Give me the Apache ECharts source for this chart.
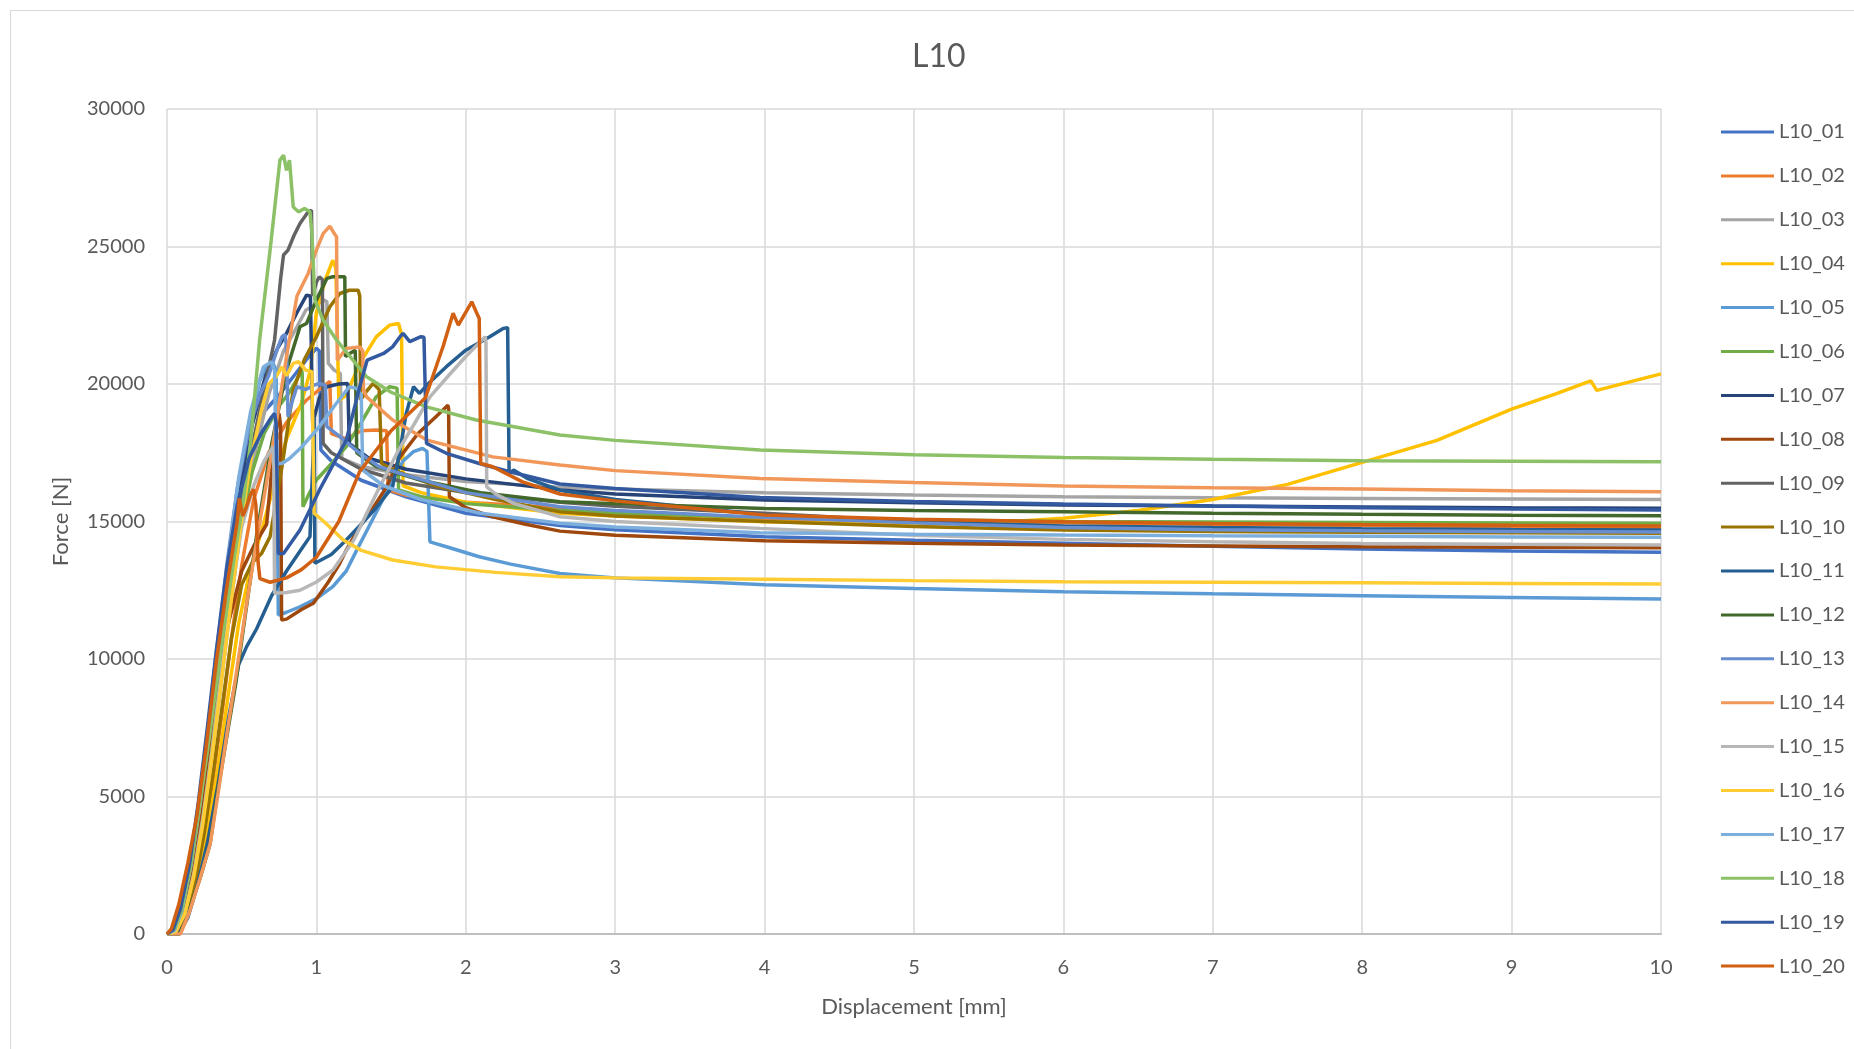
<!DOCTYPE html>
<html>
<head>
<meta charset="utf-8">
<script src="https://cdn.jsdelivr.net/npm/echarts@6/dist/echarts.min.js"></script>
<style>
html,body{margin:0;padding:0;background:#fff;}
#frame{position:absolute;left:10px;top:10px;width:1860px;height:1050px;border-left:1px solid #d9d9d9;border-top:1px solid #d9d9d9;}
#chart{position:absolute;left:0;top:0;width:1854px;height:1049px;}
</style>
</head>
<body>
<div id="frame"></div>
<div id="chart"></div>
<script>
// ---- data (x: displacement [mm], y: force [N]) ----
const seriesNames = ["L10_01","L10_02","L10_03","L10_04","L10_05","L10_06","L10_07","L10_08","L10_09","L10_10",
                     "L10_11","L10_12","L10_13","L10_14","L10_15","L10_16","L10_17","L10_18","L10_19","L10_20"];
const seriesColors = ["#4472C4","#ED7D31","#A5A5A5","#FFC000","#5B9BD5","#70AD47","#264478","#9E480E","#636363","#997300",
                      "#255E91","#43682B","#698ED0","#F1975A","#B7B7B7","#FFCD33","#7CAFDD","#8CC168","#335AA1","#D26012"];
const xTicks = [0,1,2,3,4,5,6,7,8,9,10];
const yTicks = [0,5000,10000,15000,20000,25000,30000];

const L10_01 = [[0,0],[0.05,120],[0.1,800],[0.16,2300],[0.22,4400],[0.28,6900],[0.34,9700],[0.4,12400],[0.47,15200],[0.55,17500],[0.65,19000],[0.75,19600],[0.85,20300],[0.95,21000],[1.0,21300],[1.02,21200],[1.03,17600],[1.1,17200],[1.3,16500],[1.6,15900],[2.0,15300],[2.63,14850],[3,14700],[4,14446],[5,14320],[6,14205],[7,14100],[8,14000],[9,13930],[10,13878]];
const L10_02 = [[0,0],[0.07,50],[0.13,700],[0.19,1900],[0.25,3600],[0.31,5700],[0.37,8100],[0.43,10700],[0.5,13400],[0.58,15800],[0.68,17500],[0.8,18600],[0.93,19400],[1.02,19800],[1.09,20100],[1.1,18200],[1.2,18000],[1.3,18300],[1.4,18330],[1.47,18300],[1.48,16150],[1.6,15950],[2.0,15700],[2.63,15500],[3,15380],[4,15100],[5,14990],[6,14950],[7,14900],[8,14850],[9,14810],[10,14780]];
const L10_03 = [[0,0],[0.06,80],[0.12,750],[0.18,2100],[0.24,4000],[0.3,6400],[0.36,9000],[0.42,11700],[0.49,14600],[0.58,17300],[0.68,19600],[0.78,21200],[0.87,22080],[0.93,22690],[1.0,22900],[1.05,23050],[1.07,23000],[1.08,20750],[1.12,20500],[1.16,20380],[1.17,17300],[1.3,17000],[1.6,16700],[2.0,16450],[2.63,16250],[3,16180],[4,16045],[5,15960],[6,15900],[7,15860],[8,15840],[9,15820],[10,15800]];
const L10_04 = [[0,0],[0.07,50],[0.13,650],[0.2,1900],[0.27,3700],[0.34,6000],[0.41,8700],[0.48,11300],[0.555,13200],[0.645,14900],[0.71,16200],[0.8,18000],[0.9,19300],[0.96,20500],[1.0,22600],[1.06,23800],[1.11,24500],[1.13,24200],[1.15,19400],[1.2,19600],[1.29,20750],[1.4,21715],[1.49,22140],[1.55,22200],[1.57,21800],[1.58,16300],[1.7,16050],[2.0,15700],[2.63,15300],[3,15200],[4,14990],[5,14880],[5.5,14950],[6,15114],[6.5,15400],[7,15800],[7.5,16350],[8,17150],[8.5,17950],[9,19083],[9.3,19650],[9.53,20115],[9.57,19770],[9.7,19950],[10,20370]];
const L10_05 = [[0,0],[0.05,100],[0.1,800],[0.16,2400],[0.22,4600],[0.28,7200],[0.34,10000],[0.4,12900],[0.47,15800],[0.55,18300],[0.62,20100],[0.66,20620],[0.71,20750],[0.73,20500],[0.745,11600],[0.8,11700],[0.89,11900],[1.0,12200],[1.11,12630],[1.2,13200],[1.27,13960],[1.35,14800],[1.42,15540],[1.5,16400],[1.58,17200],[1.65,17540],[1.71,17660],[1.74,17550],[1.76,14260],[1.87,14080],[2.09,13720],[2.3,13450],[2.63,13110],[3,12950],[4,12700],[5,12560],[6,12447],[7,12370],[8,12300],[9,12240],[10,12181]];
const L10_06 = [[0,0],[0.06,100],[0.12,800],[0.18,2200],[0.24,4200],[0.3,6700],[0.36,9400],[0.42,12100],[0.49,14700],[0.57,16800],[0.65,18200],[0.75,19200],[0.82,19700],[0.867,20140],[0.9,20500],[0.905,20400],[0.91,15540],[0.95,16000],[1.0,16510],[1.1,17100],[1.2,17720],[1.3,18600],[1.4,19530],[1.49,19900],[1.54,19850],[1.55,16150],[1.7,15900],[2.0,15650],[2.63,15400],[3,15300],[4,15150],[5,15060],[6,15000],[7,14980],[8,14960],[9,14950],[10,14933]];
const L10_07 = [[0,0],[0.05,120],[0.1,850],[0.16,2500],[0.22,4700],[0.28,7400],[0.34,10200],[0.41,13300],[0.48,16000],[0.57,18500],[0.66,20300],[0.74,21300],[0.8,21840],[0.87,22600],[0.934,23230],[0.96,23200],[0.975,18570],[1.02,19500],[1.07,19900],[1.15,20000],[1.21,20020],[1.22,17840],[1.35,17300],[1.6,16900],[2.0,16550],[2.63,16150],[3,16000],[4,15780],[5,15680],[6,15600],[7,15560],[8,15530],[9,15500],[10,15480]];
const L10_08 = [[0,0],[0.05,100],[0.11,900],[0.17,2500],[0.23,4600],[0.29,7200],[0.35,9900],[0.42,11500],[0.5,13200],[0.58,14100],[0.667,14900],[0.72,17960],[0.75,18930],[0.76,18500],[0.767,11420],[0.8,11450],[0.9,11800],[0.98,12025],[1.08,12800],[1.157,13480],[1.2,13960],[1.29,14810],[1.38,15500],[1.47,16260],[1.56,17350],[1.68,18200],[1.8,18810],[1.88,19230],[1.885,19100],[1.89,15900],[2.0,15500],[2.18,15170],[2.4,14900],[2.63,14650],[3,14500],[4,14300],[5,14210],[6,14144],[7,14110],[8,14080],[9,14060],[10,14046]];
const L10_09 = [[0,0],[0.05,150],[0.1,900],[0.16,2600],[0.22,4900],[0.28,7600],[0.35,10700],[0.42,13300],[0.5,15800],[0.58,18000],[0.65,19800],[0.72,21600],[0.76,23800],[0.78,24690],[0.81,24870],[0.85,25400],[0.89,25840],[0.945,26260],[0.967,26320],[0.975,23200],[1.0,23700],[1.02,23900],[1.04,23800],[1.045,17840],[1.1,17500],[1.3,16900],[1.6,16400],[2.0,16050],[2.63,15700],[3,15550],[4,15300],[5,15000],[6,14800],[7,14720],[8,14690],[9,14670],[10,14650]];
const L10_10 = [[0,0],[0.07,60],[0.13,700],[0.19,1900],[0.25,3700],[0.31,5900],[0.37,8300],[0.43,10700],[0.5,12700],[0.57,13500],[0.633,13840],[0.69,14450],[0.77,17000],[0.845,19780],[0.92,20900],[1.0,21720],[1.09,22810],[1.157,23290],[1.22,23410],[1.28,23410],[1.29,23200],[1.296,19415],[1.33,19700],[1.38,20020],[1.42,19800],[1.436,17110],[1.55,16800],[1.8,16300],[2.2,15800],[2.63,15350],[3,15200],[4,15000],[5,14820],[6,14690],[7,14640],[8,14610],[9,14590],[10,14570]];
const L10_11 = [[0,0],[0.08,0],[0.14,600],[0.2,1700],[0.27,3300],[0.34,5400],[0.41,7800],[0.48,9800],[0.533,10450],[0.6,11100],[0.7,12300],[0.8,13200],[0.9,14000],[0.957,14450],[0.975,17000],[0.985,18800],[0.99,13480],[1.0,13480],[1.1,13800],[1.2,14325],[1.3,14900],[1.4,15500],[1.51,16260],[1.56,17600],[1.6,18900],[1.65,19900],[1.69,19660],[1.75,20020],[1.87,20630],[2.0,21230],[2.16,21720],[2.25,22020],[2.28,22050],[2.29,16750],[2.32,16870],[2.41,16570],[2.63,16140],[3,15800],[4,15250],[5,15000],[6,14834],[7,14780],[8,14740],[9,14710],[10,14690]];
const L10_12 = [[0,0],[0.087,0],[0.15,900],[0.22,2000],[0.288,3265],[0.34,5200],[0.4,7165],[0.46,9100],[0.51,11055],[0.6,14500],[0.7,17800],[0.8,20500],[0.89,22080],[0.934,22200],[1.0,23050],[1.07,23840],[1.11,23900],[1.19,23900],[1.195,21000],[1.22,21100],[1.26,21230],[1.27,17500],[1.4,17000],[1.7,16500],[2.1,16050],[2.63,15718],[3,15650],[4,15477],[5,15400],[6,15355],[7,15300],[8,15260],[9,15230],[10,15210]];
const L10_13 = [[0,0],[0.04,150],[0.09,800],[0.15,2400],[0.21,4600],[0.27,7300],[0.33,10200],[0.4,13400],[0.47,16200],[0.55,18400],[0.62,19600],[0.68,20300],[0.74,21300],[0.77,21720],[0.79,21800],[0.8,21300],[0.81,18810],[0.84,19400],[0.87,19900],[0.93,19800],[0.98,19950],[1.02,20020],[1.06,19950],[1.07,18450],[1.16,18080],[1.29,17480],[1.42,16990],[1.56,16750],[2.0,16050],[2.63,15536],[3,15400],[4,15150],[5,14950],[6,14780],[7,14700],[8,14660],[9,14640],[10,14620]];
const L10_14 = [[0,0],[0.09,0],[0.15,800],[0.22,2000],[0.29,3300],[0.35,5400],[0.41,7600],[0.47,9700],[0.53,11900],[0.6,14300],[0.7,17500],[0.8,21000],[0.87,23200],[0.9,23530],[0.945,24020],[1.0,24870],[1.045,25470],[1.09,25740],[1.113,25530],[1.135,25350],[1.14,20870],[1.2,21290],[1.29,21350],[1.31,21200],[1.315,19800],[1.336,19530],[1.51,18690],[1.74,17960],[2.18,17350],[2.63,17053],[3,16850],[3.97,16568],[5,16420],[6,16288],[7,16230],[8,16180],[9,16120],[10,16082]];
const L10_15 = [[0,0],[0.06,100],[0.12,750],[0.18,2200],[0.24,4200],[0.3,6600],[0.36,9300],[0.43,12300],[0.5,14800],[0.58,16300],[0.65,17200],[0.71,17720],[0.715,17000],[0.72,12390],[0.8,12420],[0.89,12500],[1.0,12800],[1.11,13230],[1.25,14325],[1.4,16000],[1.55,17600],[1.65,18500],[1.76,19530],[1.9,20400],[2.0,21000],[2.13,21720],[2.135,21500],[2.14,16260],[2.2,16000],[2.32,15660],[2.63,15173],[3,15000],[3.97,14750],[5,14500],[6,14350],[7,14260],[8,14200],[9,14170],[10,14144]];
const L10_16 = [[0,0],[0.06,90],[0.12,750],[0.18,2100],[0.24,4000],[0.3,6400],[0.36,9000],[0.42,11700],[0.49,14700],[0.56,17200],[0.63,19000],[0.68,20000],[0.73,20260],[0.77,20620],[0.8,20300],[0.845,20750],[0.88,20810],[0.93,20500],[0.97,20450],[0.985,15300],[1.05,15000],[1.18,14325],[1.3,13950],[1.51,13600],[1.8,13350],[2.2,13150],[2.63,12990],[3,12950],[4,12900],[5,12850],[6,12810],[7,12790],[8,12770],[9,12750],[10,12727]];
const L10_17 = [[0,0],[0.05,130],[0.1,850],[0.16,2500],[0.22,4700],[0.28,7400],[0.34,10300],[0.41,13600],[0.48,16600],[0.56,19000],[0.645,20620],[0.7,20810],[0.72,20500],[0.73,17110],[0.77,17110],[0.82,17290],[0.9,17700],[1.02,18450],[1.12,19200],[1.22,19900],[1.27,19840],[1.3,19600],[1.31,16870],[1.45,16300],[1.7,15800],[2.1,15300],[2.63,14933],[3,14800],[3.97,14590],[5,14540],[6,14507],[7,14480],[8,14460],[9,14440],[10,14423]];
const L10_18 = [[0,0],[0.05,180],[0.1,900],[0.16,2500],[0.22,4700],[0.3,7800],[0.38,11100],[0.45,13700],[0.51,15700],[0.56,17900],[0.62,21600],[0.69,24870],[0.756,28140],[0.78,28320],[0.8,27770],[0.82,28140],[0.845,26440],[0.88,26260],[0.92,26380],[0.957,26260],[0.97,25470],[0.99,23050],[1.045,22320],[1.135,21600],[1.336,20260],[1.5,19700],[1.737,19170],[2.07,18690],[2.63,18143],[3,17950],[3.97,17597],[5,17430],[6,17331],[7,17260],[8,17210],[9,17190],[10,17172]];
const L10_19 = [[0,0],[0.04,150],[0.09,900],[0.15,2500],[0.21,4800],[0.27,7500],[0.33,10300],[0.4,13300],[0.47,15600],[0.55,17300],[0.63,18200],[0.7,18800],[0.72,18930],[0.73,18600],[0.745,13840],[0.78,13840],[0.89,14690],[1.02,16140],[1.2,17960],[1.29,19900],[1.34,20870],[1.45,21110],[1.51,21350],[1.56,21720],[1.58,21840],[1.625,21540],[1.7,21720],[1.72,21700],[1.737,17840],[1.87,17480],[2.09,17110],[2.3,16800],[2.63,16361],[3,16200],[3.97,15877],[5,15730],[6,15634],[7,15560],[8,15500],[9,15450],[10,15416]];
const L10_20 = [[0,0],[0.03,200],[0.08,1100],[0.14,2600],[0.2,4300],[0.26,6700],[0.33,9900],[0.4,12600],[0.47,15000],[0.484,15840],[0.507,15200],[0.53,15500],[0.56,16000],[0.578,16170],[0.595,15600],[0.61,13500],[0.622,12920],[0.69,12790],[0.8,12950],[0.9,13250],[1.0,13700],[1.15,15000],[1.29,16820],[1.5,18300],[1.73,19500],[1.85,21400],[1.915,22570],[1.95,22140],[2.04,22990],[2.07,22620],[2.09,22380],[2.1,17110],[2.18,16990],[2.38,16440],[2.63,16000],[3,15750],[4,15234],[5,15080],[6,14990],[7,14930],[8,14890],[9,14860],[10,14835]];

const seriesData = [L10_01,L10_02,L10_03,L10_04,L10_05,L10_06,L10_07,L10_08,L10_09,L10_10,
                    L10_11,L10_12,L10_13,L10_14,L10_15,L10_16,L10_17,L10_18,L10_19,L10_20];

// ---- chart ----
const FONT = 'Lato, "Liberation Sans", sans-serif';
const chart = echarts.init(document.getElementById('chart'), null, {renderer: 'canvas'});
chart.setOption({
  animation: false,
  backgroundColor: 'transparent',
  title: {
    text: 'L10', left: 907, top: 36,
    textStyle: {fontFamily: FONT, fontSize: 32, fontWeight: 'normal', color: '#595959'}
  },
  legend: {
    orient: 'vertical', left: 1716, top: 117,
    icon: 'rect', itemWidth: 53, itemHeight: 3, itemGap: 23.9,
    data: seriesNames,
    textStyle: {fontFamily: FONT, fontSize: 20, color: '#595959'}
  },
  grid: {left: 167, right: 193, top: 109, bottom: 115, containLabel: false},
  xAxis: {
    type: 'value', min: xTicks[0], max: xTicks[xTicks.length-1], interval: 1,
    name: 'Displacement [mm]', nameLocation: 'middle', nameGap: 62,
    nameTextStyle: {fontFamily: FONT, fontSize: 22, color: '#595959'},
    axisLine: {show: true, lineStyle: {color: '#bfbfbf', width: 2}},
    axisTick: {show: false},
    axisLabel: {fontFamily: FONT, fontSize: 20, color: '#595959', margin: 24, formatter: v => String(v)},
    splitLine: {show: true, lineStyle: {color: '#d9d9d9', width: 1.5}}
  },
  yAxis: {
    type: 'value', min: yTicks[0], max: yTicks[yTicks.length-1], interval: 5000,
    name: 'Force [N]', nameLocation: 'middle', nameGap: 95, nameRotate: 90,
    nameTextStyle: {fontFamily: FONT, fontSize: 22, color: '#595959'},
    axisLine: {show: false},
    axisTick: {show: false},
    axisLabel: {fontFamily: FONT, fontSize: 20, color: '#595959', margin: 22, formatter: v => String(v)},
    splitLine: {show: true, lineStyle: {color: '#d9d9d9', width: 1.5}}
  },
  series: seriesNames.map((n, i) => ({
    name: n, type: 'line', data: seriesData[i],
    symbol: 'none', showSymbol: false, smooth: false,
    lineStyle: {color: seriesColors[i], width: 3.5},
    itemStyle: {color: seriesColors[i]},
    emphasis: {disabled: true}
  }))
});
</script>
</body>
</html>
